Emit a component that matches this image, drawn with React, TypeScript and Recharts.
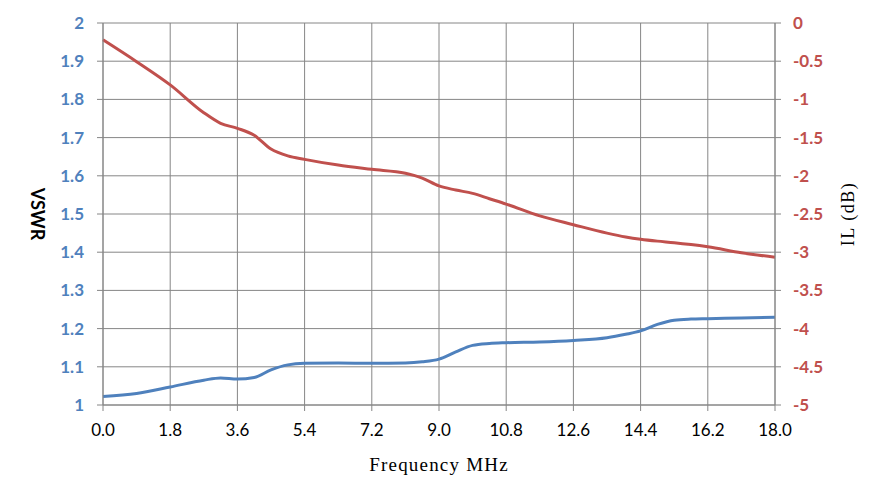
import React from 'react';
import { LineChart, Line, XAxis, YAxis, CartesianGrid } from 'recharts';

const freqMHz = [0, 0.9, 1.8, 2.7, 3.15, 3.6, 4.05, 4.5, 4.95, 5.4, 6.3, 7.2, 8.1, 8.55, 9.0, 9.45, 9.9, 10.35, 10.8, 11.7, 12.6, 13.5, 14.0, 14.4, 14.85, 15.3, 15.75, 16.2, 17.1, 18.0];
const vswr = [1.022, 1.03, 1.047, 1.065, 1.071, 1.068, 1.072, 1.092, 1.105, 1.109, 1.11, 1.109, 1.11, 1.113, 1.12, 1.139, 1.156, 1.161, 1.163, 1.165, 1.169, 1.176, 1.185, 1.194, 1.211, 1.222, 1.225, 1.226, 1.228, 1.23];
const ilDb = [-0.22, -0.506, -0.81, -1.174, -1.313, -1.379, -1.47, -1.65, -1.74, -1.785, -1.86, -1.915, -1.967, -2.03, -2.133, -2.186, -2.23, -2.3, -2.37, -2.525, -2.64, -2.75, -2.8, -2.83, -2.855, -2.875, -2.9, -2.93, -3.006, -3.067];

const xTicks = [0, 1.8, 3.6, 5.4, 7.2, 9.0, 10.8, 12.6, 14.4, 16.2, 18.0];
const leftTicks = [1, 1.1, 1.2, 1.3, 1.4, 1.5, 1.6, 1.7, 1.8, 1.9, 2];
const rightTicks = [-5, -4.5, -4, -3.5, -3, -2.5, -2, -1.5, -1, -0.5, 0];

const data = freqMHz.map((f, i) => ({ freq: f, vswr: vswr[i], il: ilDb[i] }));

const BLUE = '#4F81BD';
const RED = '#C0504D';
const GRID = '#868686';

export default function App() {
  return (
    <div style={{ width: 878, height: 495 }}>
      <LineChart width={878} height={495} data={data} margin={{ top: 15, right: 0, bottom: 28, left: 0 }}>
        <CartesianGrid yAxisId="left" stroke={GRID} strokeWidth={1} ticks={leftTicks as any} />
        <XAxis
          dataKey="freq"
          type="number"
          domain={[0, 18]}
          ticks={xTicks}
          tickFormatter={(v: number) => v.toFixed(1)}
          height={70}
          tickSize={6}
          tickMargin={13}
          axisLine={{ stroke: GRID }}
          tickLine={{ stroke: GRID }}
          tick={{ fill: '#000', fontSize: 17, fontFamily: 'Lato' }}
          interval={0}
          label={{
            value: 'Frequency MHz',
            position: 'insideBottom',
            offset: 4,
            style: { fontFamily: 'Liberation Serif', fontSize: 19, fill: '#000', letterSpacing: 1.2 },
          }}
        />
        <YAxis
          yAxisId="left"
          orientation="left"
          domain={[1, 2]}
          ticks={leftTicks}
          interval={0}
          width={95}
          tickSize={6}
          tickMargin={13}
          axisLine={{ stroke: GRID }}
          tickLine={{ stroke: GRID }}
          tick={{ fill: BLUE, fontSize: 17, fontWeight: 700, fontFamily: 'Lato' }}
          tickFormatter={(v: number) => String(Math.round(v * 10) / 10)}
          label={{
            value: 'VSWR',
            angle: 90,
            position: 'insideLeft',
            offset: 29,
            style: { textAnchor: 'middle', fontFamily: 'Lato', fontWeight: 700, fontSize: 18, fill: '#000' },
          }}
        />
        <YAxis
          yAxisId="right"
          orientation="right"
          domain={[-5, 0]}
          ticks={rightTicks}
          interval={0}
          width={111}
          tickSize={6}
          tickMargin={12}
          axisLine={{ stroke: GRID }}
          tickLine={{ stroke: GRID }}
          tick={{ fill: RED, fontSize: 17, fontWeight: 700, fontFamily: 'Lato' }}
          tickFormatter={(v: number) => String(v)}
          label={{
            value: 'IL (dB)',
            angle: -90,
            position: 'insideRight',
            offset: 38,
            style: { textAnchor: 'middle', fontFamily: 'Liberation Serif', fontSize: 18, fill: '#000', letterSpacing: 1.5 },
          }}
        />
        <Line
          yAxisId="right"
          type="monotone"
          dataKey="il"
          stroke={RED}
          strokeWidth={3}
          dot={false}
          activeDot={false}
          isAnimationActive={false}
        />
        <Line
          yAxisId="left"
          type="monotone"
          dataKey="vswr"
          stroke={BLUE}
          strokeWidth={3}
          dot={false}
          activeDot={false}
          isAnimationActive={false}
        />
      </LineChart>
    </div>
  );
}
